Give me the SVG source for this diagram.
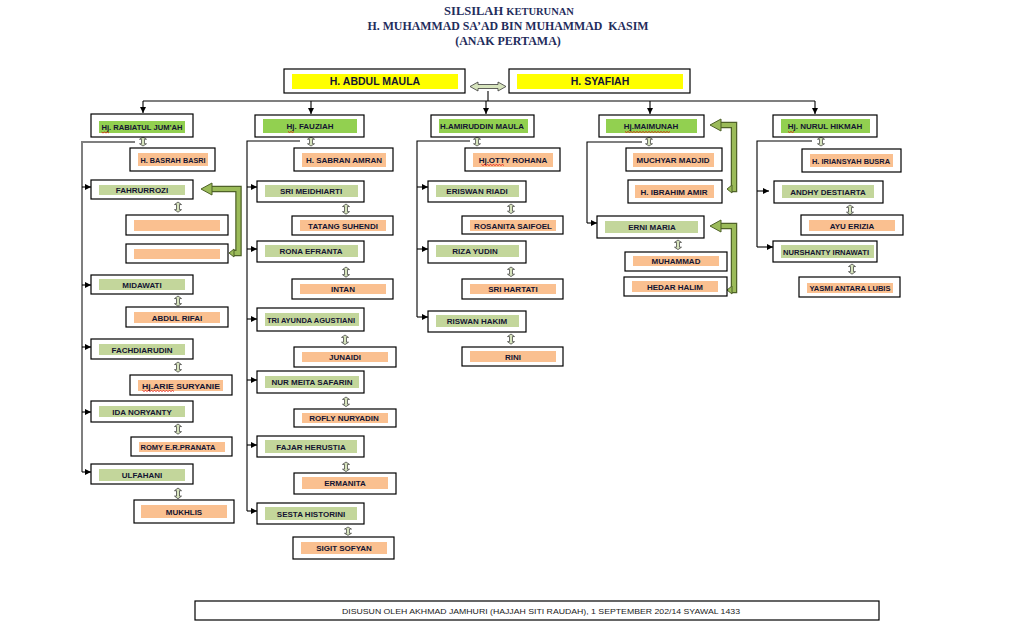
<svg xmlns="http://www.w3.org/2000/svg" width="1015" height="624" viewBox="0 0 1015 624">
<style>
.bx{fill:#fff;stroke:#000;stroke-width:1.2}
.g1{fill:#92d050}
.g2{fill:#c3d69b}
.sp{fill:#fac090}
.yl{fill:#ffff00}
.t{font-family:"Liberation Sans",Arial,sans-serif;font-weight:bold;font-size:8px;fill:#141432;text-anchor:middle}
.tt{font-family:"Liberation Sans",Arial,sans-serif;font-weight:bold;font-size:10.5px;fill:#141432;text-anchor:middle}
.ti{font-family:"Liberation Serif","Times New Roman",serif;font-weight:bold;fill:#1f2d5c;text-anchor:middle}
.ft{font-family:"Liberation Sans",Arial,sans-serif;font-size:7.5px;fill:#1a1a1a;text-anchor:middle}
.c{stroke:#000;stroke-width:1.1;fill:none}
.cg{stroke:#7f7f7f;stroke-width:2;fill:none}
.da{fill:#d7e4bd;stroke:#3a3a3a;stroke-width:0.8}
.go{stroke:#4f6228;stroke-width:6.5;fill:none;stroke-linejoin:miter}
.gi{stroke:#9bbb59;stroke-width:4;fill:none;stroke-linejoin:miter}
.gh{fill:#9bbb59;stroke:#4f6228;stroke-width:1}
.sq{stroke:#e00000;stroke-width:0.7;fill:none}
</style>
<defs>
<marker id="ah" markerUnits="userSpaceOnUse" markerWidth="7" markerHeight="7" refX="6" refY="3" orient="auto">
<path d="M0,0 L6,3 L0,6 Z" fill="#000"/>
</marker>
<path id="dv" class="da" d="M0,0 L3.5,3 L1.5,3 L1.5,9 L3.5,9 L0,12 L-3.5,9 L-1.5,9 L-1.5,3 L-3.5,3 Z"/>
</defs>

<g id="title">
<text class="ti" x="509" y="15"><tspan font-size="12.5">SILSILAH </tspan><tspan font-size="10.5">KETURUNAN</tspan></text>
<text class="ti" x="508" y="30" font-size="12" textLength="281" lengthAdjust="spacingAndGlyphs">H. MUHAMMAD SA’AD BIN MUHAMMAD&#160; KASIM</text>
<text class="ti" x="508" y="45" font-size="12">(ANAK PERTAMA)</text>
</g>

<g id="connectors">
<line class="c" x1="488" y1="91" x2="488" y2="101"/>
<line class="c" x1="143" y1="101" x2="815" y2="101"/>
<line class="c" x1="143" y1="101" x2="143" y2="113" marker-end="url(#ah)"/>
<line class="c" x1="311" y1="101" x2="311" y2="114" marker-end="url(#ah)"/>
<line class="c" x1="486" y1="101" x2="486" y2="114" marker-end="url(#ah)"/>
<line class="c" x1="650" y1="101" x2="650" y2="114" marker-end="url(#ah)"/>
<line class="c" x1="815" y1="101" x2="815" y2="114" marker-end="url(#ah)"/>
<!-- col1 -->
<polyline class="cg" points="135,142 82,142 82,472"/>
<line class="c" x1="82" y1="187" x2="91" y2="187" marker-end="url(#ah)"/>
<line class="c" x1="82" y1="285" x2="91" y2="285" marker-end="url(#ah)"/>
<line class="c" x1="82" y1="347" x2="91" y2="347" marker-end="url(#ah)"/>
<line class="c" x1="82" y1="412" x2="91" y2="412" marker-end="url(#ah)"/>
<line class="c" x1="82" y1="472" x2="91" y2="472" marker-end="url(#ah)"/>
<!-- col2 -->
<polyline class="c" points="300,141 247,141 247,511"/>
<line class="c" x1="247" y1="187" x2="257" y2="187" marker-end="url(#ah)"/>
<line class="c" x1="247" y1="249" x2="257" y2="249" marker-end="url(#ah)"/>
<line class="c" x1="247" y1="319" x2="257" y2="319" marker-end="url(#ah)"/>
<line class="c" x1="247" y1="380" x2="257" y2="380" marker-end="url(#ah)"/>
<line class="c" x1="247" y1="445" x2="257" y2="445" marker-end="url(#ah)"/>
<line class="c" x1="247" y1="511" x2="257" y2="511" marker-end="url(#ah)"/>
<!-- col3 -->
<polyline class="c" points="470,141 417,141 417,317"/>
<line class="c" x1="417" y1="187" x2="428" y2="187" marker-end="url(#ah)"/>
<line class="c" x1="417" y1="249" x2="428" y2="249" marker-end="url(#ah)"/>
<line class="c" x1="417" y1="317" x2="428" y2="317" marker-end="url(#ah)"/>
<!-- col4 -->
<polyline class="c" points="642,142 587,142 587,223"/>
<line class="c" x1="587" y1="223" x2="597" y2="223" marker-end="url(#ah)"/>
<!-- col5 -->
<polyline class="c" points="812,141 757,141 757,247"/>
<line class="c" x1="757" y1="191" x2="769" y2="191" marker-end="url(#ah)"/>
<line class="c" x1="757" y1="247" x2="773" y2="247" marker-end="url(#ah)"/>
<!-- couple arrow -->
<path class="da" d="M470,86.5 L478,82 L478,84.5 L498,84.5 L498,82 L506,86.5 L498,91 L498,88.5 L478,88.5 L478,91 Z"/>
<!-- spouse double arrows -->
<use href="#dv" transform="translate(143,137) scale(1,0.75)"/>
<use href="#dv" transform="translate(178,202) scale(1,0.85)"/>
<use href="#dv" transform="translate(178,296) scale(1,0.85)"/>
<use href="#dv" transform="translate(178,362) scale(1,0.85)"/>
<use href="#dv" transform="translate(178,424) scale(1,0.85)"/>
<use href="#dv" transform="translate(178,488) scale(1,0.9)"/>
<use href="#dv" transform="translate(311,137) scale(1,0.75)"/>
<use href="#dv" transform="translate(346,204) scale(1,0.85)"/>
<use href="#dv" transform="translate(346,267) scale(1,0.85)"/>
<use href="#dv" transform="translate(345,335) scale(1,0.8)"/>
<use href="#dv" transform="translate(346,397) scale(1,0.8)"/>
<use href="#dv" transform="translate(346,462) scale(1,0.8)"/>
<use href="#dv" transform="translate(348,527) scale(1,0.7)"/>
<use href="#dv" transform="translate(477,137) scale(1,0.75)"/>
<use href="#dv" transform="translate(511,204) scale(1,0.8)"/>
<use href="#dv" transform="translate(511,267) scale(1,0.8)"/>
<use href="#dv" transform="translate(511,334) scale(1,0.85)"/>
<use href="#dv" transform="translate(649,137) scale(1,0.75)"/>
<use href="#dv" transform="translate(678,240) scale(1,0.8)"/>
<use href="#dv" transform="translate(821,137) scale(1,0.75)"/>
<use href="#dv" transform="translate(850,205) scale(1,0.8)"/>
<use href="#dv" transform="translate(852,264) scale(1,0.85)"/>
<!-- green bent arrows -->
<path class="go" d="M211,189 H238.5 V253 H233"/>
<path class="gi" d="M211,189 H238.5 V253 H233"/>
<polygon class="gh" points="201,189 212,183 212,195"/>
<polygon class="gh" points="229,253 234,249 234,257"/>
<path class="go" d="M720,125 H734 V189 H731"/>
<path class="gi" d="M720,125 H734 V189 H731"/>
<polygon class="gh" points="710,125 721,119 721,131"/>
<polygon class="gh" points="727,189 732,185 732,193"/>
<path class="go" d="M720,226 H734 V290 H731"/>
<path class="gi" d="M720,226 H734 V290 H731"/>
<polygon class="gh" points="710,226 721,220 721,232"/>
<polygon class="gh" points="727,290 732,286 732,294"/>
</g>

<g id="n-abdul-maula"><rect class="bx" x="284" y="69" width="181" height="24"/><rect class="yl" x="292" y="74" width="166" height="15"/><text class="tt" x="375" y="85.3">H. ABDUL MAULA</text></g>
<g id="n-syafiah"><rect class="bx" x="509" y="69" width="181" height="24"/><rect class="yl" x="517" y="74" width="166" height="15"/><text class="tt" x="600" y="85.3">H. SYAFIAH</text></g>

<!-- column 1 -->
<g id="n-rabiatul"><rect class="bx" x="91" y="114" width="102" height="23"/><rect class="g1" x="99" y="121" width="86" height="12"/><text class="t" x="142" y="130.1" textLength="81" lengthAdjust="spacingAndGlyphs">Hj. RABIATUL JUM’AH</text><path class="sq" d="M101.5,132 l1.5,1 l1.5,-1 l1.5,1 l1.5,-1 l1.5,1"/></g>
<g id="n-basrah"><rect class="bx" x="130" y="148" width="85" height="23"/><rect class="sp" x="138" y="153" width="70" height="13"/><text class="t" x="173" y="162.6" textLength="65" lengthAdjust="spacingAndGlyphs">H. BASRAH BASRI</text></g>
<g id="n-fahrurrozi"><rect class="bx" x="91" y="180" width="102" height="19"/><rect class="g2" x="99" y="185" width="86" height="10"/><text class="t" x="142" y="192.8">FAHRURROZI</text></g>
<g id="n-empty1"><rect class="bx" x="126" y="215" width="102" height="20"/><rect class="sp" x="134" y="220" width="86" height="11"/></g>
<g id="n-empty2"><rect class="bx" x="126" y="244" width="102" height="19"/><rect class="sp" x="134" y="249" width="86" height="10"/></g>
<g id="n-midawati"><rect class="bx" x="91" y="275" width="102" height="19"/><rect class="g2" x="99" y="279" width="86" height="11"/><text class="t" x="142" y="287.6">MIDAWATI</text></g>
<g id="n-abdul-rifai"><rect class="bx" x="126" y="307" width="102" height="20"/><rect class="sp" x="134" y="312" width="86" height="11"/><text class="t" x="177" y="320.6">ABDUL RIFAI</text></g>
<g id="n-fachdiarudin"><rect class="bx" x="91" y="339" width="102" height="20"/><rect class="g2" x="99" y="344" width="86" height="11"/><text class="t" x="142" y="352.6">FACHDIARUDIN</text></g>
<g id="n-arie"><rect class="bx" x="130" y="375" width="102" height="20"/><rect class="sp" x="138" y="380" width="85" height="11"/><text class="t" x="181" y="388.6" textLength="78" lengthAdjust="spacingAndGlyphs">Hj.ARIE SURYANIE</text><path class="sq" d="M142.5,390.5 l1.5,1 l1.5,-1 l1.5,1 l1.5,-1 l1.5,1 l1.5,-1 l1.5,1 l1.5,-1 l1.5,1 l1.5,-1 l1.5,1 l1.5,-1 l1.5,1 l1.5,-1 l1.5,1 l1.5,-1 l1.5,1 l1.5,-1 l1.5,1 l1.5,-1 l1.5,1"/></g>
<g id="n-ida"><rect class="bx" x="91" y="401" width="102" height="21"/><rect class="g2" x="99" y="406" width="86" height="11"/><text class="t" x="142" y="414.6">IDA NORYANTY</text></g>
<g id="n-romy"><rect class="bx" x="131" y="437" width="101" height="19"/><rect class="sp" x="139" y="442" width="86" height="10"/><text class="t" x="178" y="450.1" textLength="75" lengthAdjust="spacingAndGlyphs">ROMY E.R.PRANATA</text></g>
<g id="n-ulfahani"><rect class="bx" x="91" y="464" width="102" height="20"/><rect class="g2" x="99" y="469" width="86" height="12"/><text class="t" x="142" y="478.1">ULFAHANI</text></g>
<g id="n-mukhlis"><rect class="bx" x="134" y="500" width="100" height="23"/><rect class="sp" x="141" y="505" width="86" height="13"/><text class="t" x="184" y="514.6">MUKHLIS</text></g>

<!-- column 2 -->
<g id="n-fauziah"><rect class="bx" x="255" y="115" width="109" height="22"/><rect class="g1" x="263" y="119" width="94" height="14"/><text class="t" x="310" y="129.1">Hj. FAUZIAH</text><path class="sq" d="M288,131.5 l1.5,1 l1.5,-1 l1.5,1 l1.5,-1"/></g>
<g id="n-sabran"><rect class="bx" x="294" y="148" width="99" height="23"/><rect class="sp" x="302" y="153" width="84" height="14"/><text class="t" x="344" y="162.8">H. SABRAN AMRAN</text></g>
<g id="n-sri-meidhiarti"><rect class="bx" x="257" y="181" width="107" height="21"/><rect class="g2" x="265" y="185" width="93" height="12"/><text class="t" x="311" y="194.1">SRI MEIDHIARTI</text></g>
<g id="n-tatang"><rect class="bx" x="292" y="216" width="101" height="19"/><rect class="sp" x="300" y="220" width="86" height="11"/><text class="t" x="343" y="228.6">TATANG SUHENDI</text></g>
<g id="n-rona"><rect class="bx" x="257" y="241" width="107" height="21"/><rect class="g2" x="265" y="245" width="93" height="12"/><text class="t" x="311" y="254.1">RONA EFRANTA</text></g>
<g id="n-intan"><rect class="bx" x="292" y="279" width="101" height="20"/><rect class="sp" x="300" y="284" width="86" height="10"/><text class="t" x="343" y="292.1">INTAN</text></g>
<g id="n-tri"><rect class="bx" x="257" y="308" width="107" height="23"/><rect class="g2" x="265" y="313" width="94" height="13"/><text class="t" x="311" y="322.6" textLength="88" lengthAdjust="spacingAndGlyphs">TRI AYUNDA AGUSTIANI</text></g>
<g id="n-junaidi"><rect class="bx" x="294" y="347" width="102" height="20"/><rect class="sp" x="302" y="352" width="86" height="10"/><text class="t" x="345" y="360.1">JUNAIDI</text></g>
<g id="n-nur-meita"><rect class="bx" x="257" y="371" width="107" height="22"/><rect class="g2" x="265" y="376" width="94" height="12"/><text class="t" x="312" y="385.1">NUR MEITA SAFARIN</text></g>
<g id="n-rofly"><rect class="bx" x="294" y="409" width="102" height="18"/><rect class="sp" x="302" y="413" width="86" height="10"/><text class="t" x="344" y="421.1">ROFLY NURYADIN</text></g>
<g id="n-fajar"><rect class="bx" x="257" y="436" width="107" height="21"/><rect class="g2" x="265" y="440" width="92" height="13"/><text class="t" x="311" y="449.6">FAJAR HERUSTIA</text></g>
<g id="n-ermanita"><rect class="bx" x="294" y="473" width="102" height="21"/><rect class="sp" x="302" y="477" width="86" height="12"/><text class="t" x="345" y="486.1">ERMANITA</text></g>
<g id="n-sesta"><rect class="bx" x="257" y="503" width="107" height="21"/><rect class="g2" x="265" y="507" width="92" height="13"/><text class="t" x="311" y="516.6">SESTA HISTORINI</text></g>
<g id="n-sigit"><rect class="bx" x="293" y="537" width="101" height="22"/><rect class="sp" x="301" y="542" width="86" height="12"/><text class="t" x="344" y="551.1">SIGIT SOFYAN</text></g>

<!-- column 3 -->
<g id="n-amiruddin"><rect class="bx" x="431" y="115" width="103" height="22"/><rect class="g1" x="439" y="119" width="89" height="14"/><text class="t" x="482" y="129.1" textLength="84" lengthAdjust="spacingAndGlyphs">H.AMIRUDDIN MAULA</text></g>
<g id="n-otty"><rect class="bx" x="465" y="148" width="95" height="23"/><rect class="sp" x="473" y="153" width="80" height="14"/><text class="t" x="513" y="162.8">Hj.OTTY ROHANA</text><path class="sq" d="M481.5,164.5 l1.5,1 l1.5,-1 l1.5,1 l1.5,-1 l1.5,1 l1.5,-1 l1.5,1 l1.5,-1 l1.5,1 l1.5,-1 l1.5,1 l1.5,-1 l1.5,1 l1.5,-1 l1.5,1"/></g>
<g id="n-eriswan"><rect class="bx" x="428" y="181" width="98" height="21"/><rect class="g2" x="436" y="185" width="83" height="12"/><text class="t" x="477" y="194.1">ERISWAN RIADI</text></g>
<g id="n-rosanita"><rect class="bx" x="462" y="216" width="101" height="18"/><rect class="sp" x="470" y="220" width="86" height="11"/><text class="t" x="513" y="228.6">ROSANITA SAIFOEL</text></g>
<g id="n-riza"><rect class="bx" x="428" y="241" width="98" height="22"/><rect class="g2" x="436" y="245" width="83" height="12"/><text class="t" x="475" y="254.1">RIZA YUDIN</text></g>
<g id="n-sri-hartati"><rect class="bx" x="462" y="279" width="101" height="20"/><rect class="sp" x="470" y="284" width="86" height="10"/><text class="t" x="513" y="292.1">SRI HARTATI</text></g>
<g id="n-riswan"><rect class="bx" x="428" y="311" width="98" height="21"/><rect class="g2" x="436" y="315" width="83" height="12"/><text class="t" x="477" y="324.1">RISWAN HAKIM</text></g>
<g id="n-rini"><rect class="bx" x="462" y="347" width="101" height="19"/><rect class="sp" x="470" y="351" width="86" height="11"/><text class="t" x="513" y="359.6">RINI</text></g>

<!-- column 4 -->
<g id="n-maimunah"><rect class="bx" x="599" y="115" width="105" height="22"/><rect class="g1" x="606" y="119" width="91" height="14"/><text class="t" x="651" y="129.1">Hj.MAIMUNAH</text><path class="sq" d="M625,131.5 l1.5,1 l1.5,-1 l1.5,1 l1.5,-1 l1.5,1 l1.5,-1 l1.5,1 l1.5,-1 l1.5,1 l1.5,-1 l1.5,1 l1.5,-1 l1.5,1 l1.5,-1 l1.5,1 l1.5,-1 l1.5,1 l1.5,-1 l1.5,1 l1.5,-1 l1.5,1 l1.5,-1 l1.5,1 l1.5,-1 l1.5,1 l1.5,-1 l1.5,1 l1.5,-1 l1.5,1 l1.5,-1"/></g>
<g id="n-muchyar"><rect class="bx" x="626" y="148" width="96" height="23"/><rect class="sp" x="633" y="153" width="81" height="14"/><text class="t" x="673" y="162.8">MUCHYAR MADJID</text></g>
<g id="n-ibrahim"><rect class="bx" x="628" y="180" width="94" height="23"/><rect class="sp" x="635" y="185" width="79" height="13"/><text class="t" x="674" y="194.6">H. IBRAHIM AMIR</text></g>
<g id="n-erni"><rect class="bx" x="597" y="216" width="107" height="22"/><rect class="g2" x="605" y="221" width="93" height="12"/><text class="t" x="652" y="230.1">ERNI MARIA</text></g>
<g id="n-muhammad"><rect class="bx" x="625" y="252" width="102" height="19"/><rect class="sp" x="633" y="256" width="86" height="10"/><text class="t" x="676" y="264.1">MUHAMMAD</text></g>
<g id="n-hedar"><rect class="bx" x="624" y="277" width="103" height="19"/><rect class="sp" x="632" y="281" width="86" height="11"/><text class="t" x="675" y="289.6">HEDAR HALIM</text></g>

<!-- column 5 -->
<g id="n-nurul"><rect class="bx" x="773" y="115" width="104" height="22"/><rect class="g1" x="781" y="119" width="89" height="14"/><text class="t" x="825" y="129.1">Hj. NURUL HIKMAH</text><path class="sq" d="M788,131.5 l1.5,1 l1.5,-1 l1.5,1 l1.5,-1"/></g>
<g id="n-iriansyah"><rect class="bx" x="802" y="149" width="99" height="23"/><rect class="sp" x="810" y="154" width="83" height="13"/><text class="t" x="851" y="163.6" textLength="78" lengthAdjust="spacingAndGlyphs">H. IRIANSYAH BUSRA</text></g>
<g id="n-andhy"><rect class="bx" x="774" y="181" width="109" height="22"/><rect class="g2" x="782" y="185" width="92" height="13"/><text class="t" x="828" y="194.6">ANDHY DESTIARTA</text></g>
<g id="n-ayu"><rect class="bx" x="801" y="215" width="102" height="20"/><rect class="sp" x="809" y="220" width="86" height="11"/><text class="t" x="852" y="228.6">AYU ERIZIA</text></g>
<g id="n-nurshanty"><rect class="bx" x="773" y="241" width="104" height="21"/><rect class="g2" x="781" y="245" width="93" height="13"/><text class="t" x="826" y="254.6" textLength="86" lengthAdjust="spacingAndGlyphs">NURSHANTY IRNAWATI</text></g>
<g id="n-yasmi"><rect class="bx" x="799" y="277" width="101" height="20"/><rect class="sp" x="807" y="283" width="86" height="10"/><text class="t" x="850" y="291.1" textLength="81" lengthAdjust="spacingAndGlyphs">YASMI ANTARA LUBIS</text></g>

<g id="footer"><rect class="bx" x="195" y="601" width="684" height="19"/><text class="ft" x="541" y="613.5" textLength="398" lengthAdjust="spacingAndGlyphs">DISUSUN OLEH AKHMAD JAMHURI (HAJJAH SITI RAUDAH), 1 SEPTEMBER 202/14 SYAWAL 1433</text></g>
</svg>
